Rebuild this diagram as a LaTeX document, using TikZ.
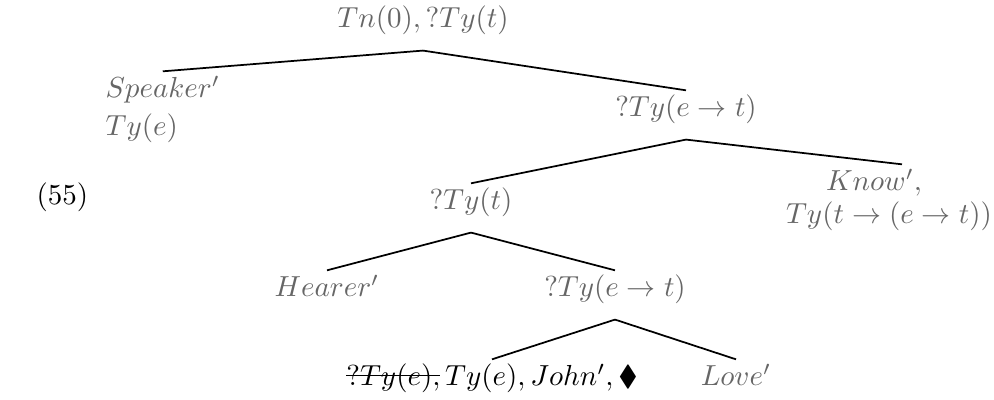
\documentclass[tikz,border=0pt]{standalone}
\usepackage{amssymb}
\usetikzlibrary{calc}
\newsavebox\strikebox
\newcommand{\struck}[1]{\sbox\strikebox{$#1$}\rlap{\rule[3.3pt]{\wd\strikebox}{.5pt}}\usebox\strikebox}
\tikzset{
  lab/.style = {inner sep = 0pt, text height = 9pt, text depth = 7.6pt, text = black!60},
  leaf/.style = {lab, text depth = 1.5pt},
  sublab/.style = {inner sep = 0pt, text = black!60},
  edge/.style = {line width = .6pt}
}
\begin{document}
\begin{tikzpicture}
  \begin{scope}[x = .345pt, y = -.345pt]
    \useasboundingbox (0, 0) rectangle (994, 400);
    \node[anchor = base west, inner sep = 0pt] (num) at (36, 205) {(55)};
    % the tree, level by level
    \node[lab, anchor = base] (root) at (423, 28) {$Tn(0), ?Ty(t)$};
    \node[leaf, anchor = base west] (spk) at (105, 98) {$Speaker'$};
    \node[sublab, anchor = base west] (spkty) at (105, 136) {$Ty(e)$};
    \node[lab, anchor = base] (vpa) at (686, 117) {$?Ty(e \rightarrow t)$};
    \node[lab, anchor = base] (tyt) at (471, 210) {$?Ty(t)$};
    \node[leaf, anchor = base] (know) at (874, 191) {$Know',$};
    \node[sublab, anchor = base] (knowty) at (889, 224) {$Ty(t \rightarrow (e \rightarrow t))$};
    \node[leaf, anchor = base] (hear) at (327, 297) {$Hearer'$};
    \node[lab, anchor = base] (vpb) at (615, 297) {$?Ty(e \rightarrow t)$};
    \node[leaf, anchor = base, text = black] (john) at (492, 386) {$\struck{?Ty(e),}\,Ty(e), John', \blacklozenge$};
    \node[leaf, anchor = base] (love) at (736, 386) {$Love'$};
    \foreach \p/\c in {root/spk, root/vpa, vpa/tyt, tyt/hear, tyt/vpb, vpb/john, vpb/love}
      \draw[edge] (\p.south) -- (\c.north);
    \draw[edge] (vpa.south) -- ($(know.north) + (28, 0)$);
  \end{scope}
\end{tikzpicture}
\end{document}
